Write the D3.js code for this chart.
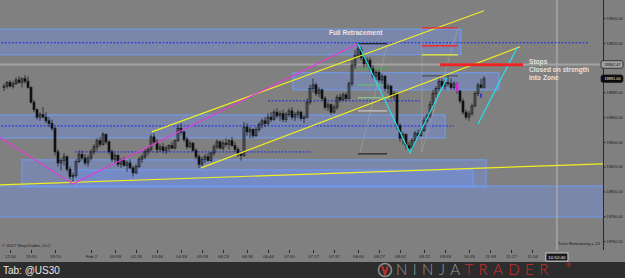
<!DOCTYPE html>
<html>
<head>
<meta charset="utf-8">
<script src="https://cdn.jsdelivr.net/npm/d3@7"></script>
<style>
  body { margin: 0; background: #808080; }
  svg { display: block; }
</style>
</head>
<body>
<svg id="chart" width="625" height="278"></svg>
<script>
// bar data [open, high, low, close], one entry per tick bar
const ohlc = [
  [19884,19887,19881,19885],[19885,19889,19883,19888],[19888,19890,19884,19885],[19885,19889,19883,19887],
  [19887,19892,19886,19890],[19890,19893,19887,19888],[19888,19892,19884,19891],[19891,19894,19887,19889],
  [19889,19893,19883,19884],[19884,19885,19871,19872],[19872,19874,19864,19866],[19866,19867,19858,19860],
  [19860,19864,19857,19862],[19862,19868,19859,19860],[19860,19864,19855,19857],[19857,19860,19852,19855],
  [19855,19858,19849,19851],[19851,19852,19829,19832],[19832,19834,19820,19823],[19823,19827,19817,19825],
  [19825,19831,19821,19828],[19828,19829,19816,19818],[19818,19820,19810,19812],[19812,19815,19806,19813],
  [19813,19826,19811,19824],[19824,19833,19823,19830],[19830,19833,19825,19827],[19827,19830,19821,19823],
  [19823,19829,19820,19827],[19827,19834,19825,19832],[19832,19838,19830,19836],[19836,19843,19833,19841],
  [19841,19844,19836,19838],[19838,19848,19837,19846],[19846,19847,19838,19840],[19840,19841,19830,19832],
  [19832,19834,19824,19826],[19826,19831,19823,19829],[19829,19830,19820,19822],[19822,19827,19819,19825],
  [19825,19828,19820,19821],[19821,19825,19816,19823],[19823,19826,19818,19819],[19819,19821,19812,19815],
  [19815,19822,19814,19820],[19820,19828,19819,19826],[19826,19830,19823,19828],[19828,19834,19826,19832],
  [19832,19836,19829,19834],[19834,19846,19832,19844],[19844,19847,19838,19840],[19840,19842,19831,19834],
  [19834,19838,19832,19836],[19836,19839,19831,19833],[19833,19837,19830,19835],[19835,19838,19832,19837],
  [19837,19840,19834,19835],[19835,19842,19834,19841],[19841,19854,19840,19851],[19851,19855,19846,19848],
  [19848,19849,19840,19842],[19842,19844,19834,19836],[19836,19841,19835,19839],[19839,19840,19832,19833],
  [19833,19835,19826,19828],[19828,19830,19819,19822],[19822,19828,19820,19826],[19826,19830,19823,19828],
  [19828,19831,19824,19825],[19825,19832,19824,19831],[19831,19838,19829,19836],[19836,19842,19834,19840],
  [19840,19841,19834,19835],[19835,19841,19833,19839],[19839,19843,19836,19838],[19838,19842,19834,19841],
  [19841,19844,19836,19837],[19837,19840,19832,19834],[19834,19836,19828,19830],[19830,19832,19825,19829],
  [19829,19856,19828,19852],[19852,19855,19845,19848],[19848,19852,19843,19850],[19850,19851,19843,19845],
  [19845,19852,19844,19850],[19850,19856,19848,19854],[19854,19859,19851,19857],[19857,19860,19852,19855],
  [19855,19863,19853,19860],[19860,19864,19856,19858],[19858,19866,19857,19864],[19864,19867,19859,19861],
  [19861,19865,19857,19863],[19863,19866,19856,19858],[19858,19864,19856,19862],[19862,19867,19860,19865],
  [19865,19868,19858,19860],[19860,19864,19857,19862],[19862,19866,19859,19864],[19864,19865,19857,19859],
  [19859,19862,19855,19860],[19860,19875,19859,19872],[19872,19886,19870,19883],[19883,19891,19880,19886],
  [19886,19888,19877,19879],[19879,19884,19876,19882],[19882,19883,19873,19875],[19875,19877,19866,19868],
  [19868,19872,19865,19870],[19870,19871,19862,19864],[19864,19870,19863,19868],[19868,19878,19866,19876],
  [19876,19879,19872,19874],[19874,19880,19873,19878],[19878,19880,19873,19875],[19875,19889,19874,19887],
  [19887,19906,19885,19902],[19902,19914,19899,19910],[19910,19920,19907,19915],[19915,19917,19906,19908],
  [19908,19911,19900,19903],[19903,19908,19901,19906],[19906,19908,19897,19899],[19899,19902,19891,19893],
  [19893,19898,19890,19896],[19896,19898,19888,19890],[19890,19895,19887,19893],[19893,19894,19881,19883],
  [19883,19887,19879,19885],[19885,19886,19875,19877],[19877,19881,19874,19879],[19879,19880,19850,19853],
  [19853,19855,19840,19843],[19843,19848,19838,19846],[19846,19847,19834,19837],[19837,19840,19832,19835],
  [19835,19843,19834,19841],[19841,19849,19839,19847],[19847,19850,19843,19845],[19845,19851,19844,19849],
  [19849,19860,19848,19857],[19857,19863,19855,19861],[19861,19873,19859,19870],[19870,19882,19868,19879],
  [19879,19885,19876,19883],[19883,19892,19881,19889],[19889,19891,19883,19885],[19885,19890,19882,19888],
  [19888,19893,19885,19887],[19887,19891,19882,19884],[19884,19889,19882,19887],[19887,19888,19879,19881],
  [19881,19882,19871,19873],[19873,19875,19862,19864],[19864,19866,19858,19860],[19860,19865,19857,19863],
  [19863,19871,19861,19869],[19869,19881,19868,19879],[19879,19888,19877,19886],[19886,19891,19883,19884],
  [19884,19893,19883,19891]
];

const timeTickIdx = [2, 9, 17, 29, 37, 44, 51, 59, 66, 73, 81, 88, 95, 103, 110, 118, 125, 132, 140, 147, 155, 162, 169, 176];
const timeTickText = ["12:50","15:51","19:15","Feb 2","00:59","02:26","03:46","04:59","05:59","06:23","06:36","06:44",
  "07:00","07:17","07:37","08:00","08:27","08:52","09:22","09:59","10:35","11:08","11:27","11:54"];
// 19900 sits under the price tag, so it is not listed
const priceTicks = [19940, 19920, 19880, 19860, 19840, 19820, 19800, 19780, 19760];
const lastPrice = 19891.00;
const markerPrice = 19902.47;
const currentTime = "10:52:40";
const currentIdx = 184.3;

// drawing objects, anchored in [bar index, price]
const zones = [
  [-2, 152.3, 19931, 19910.3],
  [96.3, 165, 19895.8, 19882],
  [-2, 147, 19861.8, 19843.2],
  [6, 160.7, 19825.5, 19803.6],
  [23.7, 156.3, 19817.4, 19804.4],
  [-2, 210, 19804.4, 19779.4]
];
const dashedLevels = [[19920, -2, 194.7], [19852.9, -2, 150], [19873.1, 88, 138.7], [19831.9, 23.7, 102.3]];
const yellowLines = [
  [[49.3, 19848.1], [160, 19945.9]],
  [[65.7, 19819], [172, 19916.8]],
  [[-2, 19805.2], [210, 19823.1]],
  [[139.3, 19910.3], [151.3, 19910.3]]
];
const magentaPath = [[-2, 19844.3], [23, 19806.1], [118, 19919.2]];
const cyanPaths = [
  [[118, 19919.2], [135.3, 19831.1], [147.7, 19891.7]],
  [[158, 19854.5], [171, 19916]]
];
const redLevels = [[19932.1, 139.3, 151.3], [19917.6, 139.3, 151.3]];
const stopLevel = [19902.2, 145.3, 173];
const fibLevels = [19919.2, 19899, 19886, 19875.6, 19865, 19830.3];
const fibRange = [118, 127.7];
const boxLevel = [19893.3, 139.3, 151.3];
const faintLines = [
  [[118.7, 19831.1], [127.7, 19918.4]],
  [[139.3, 19831.9], [151.3, 19932.1]],
  [[139.3, 19831.9], [139.3, 19932.1]]
];
const highlightBars = [151];
const signalBars = [159];

const svg = d3.select("#chart");
const W = 625, H = 278;
const plotRight = 603;

const x = d3.scaleLinear().domain([0, 160]).range([4, 484]);
const y = d3.scaleLinear().domain([19760, 19940]).range([241, 18]);

svg.append("rect").attr("width", W).attr("height", H).attr("fill", "#808080");

const plot = svg.append("g");
plot.append("clipPath").attr("id", "clip")
  .append("rect").attr("width", plotRight).attr("height", 250);
const layer = plot.append("g").attr("clip-path", "url(#clip)");

// zones
layer.append("g")
  .selectAll("rect")
  .data(zones)
  .join("rect")
  .attr("x", d => x(d[0]))
  .attr("width", d => x(d[1]) - x(d[0]))
  .attr("y", d => y(d[2]))
  .attr("height", d => y(d[3]) - y(d[2]))
  .attr("fill", "rgba(110,150,255,0.33)")
  .attr("stroke", "#6f9cf2")
  .attr("stroke-width", 1);

// last price marker line
layer.append("line")
  .attr("x1", 0).attr("x2", plotRight)
  .attr("y1", y(markerPrice)).attr("y2", y(markerPrice))
  .attr("stroke", "#a4a4a4").attr("stroke-width", 2);

// current time line
layer.append("line")
  .attr("x1", x(currentIdx)).attr("x2", x(currentIdx))
  .attr("y1", 0).attr("y2", 250)
  .attr("stroke", "#a8a8a8").attr("stroke-width", 1.5);

// dashed levels
layer.append("g")
  .selectAll("line")
  .data(dashedLevels)
  .join("line")
  .attr("x1", d => x(d[1])).attr("x2", d => x(d[2]))
  .attr("y1", d => y(d[0])).attr("y2", d => y(d[0]))
  .attr("stroke", "#1c2be6")
  .attr("stroke-width", 1)
  .attr("stroke-dasharray", "2,1.5");

// faint tool lines
const line = d3.line().x(d => x(d[0])).y(d => y(d[1]));
layer.append("g")
  .selectAll("path")
  .data(faintLines)
  .join("path")
  .attr("d", line)
  .attr("fill", "none")
  .attr("stroke", "#a9a9a9")
  .attr("stroke-width", 0.5);

// fib-style short levels
const fibColors = ["#111", "#3fae4a", "#5cc466", "#8fd88f", "#d8d8d8", "#111"];
layer.append("g")
  .selectAll("line")
  .data(fibLevels)
  .join("line")
  .attr("x1", x(fibRange[0])).attr("x2", x(fibRange[1]))
  .attr("y1", d => y(d)).attr("y2", d => y(d))
  .attr("stroke", (d, i) => fibColors[i])
  .attr("stroke-width", 1);

layer.append("line")
  .attr("x1", x(boxLevel[1])).attr("x2", x(boxLevel[2]))
  .attr("y1", y(boxLevel[0])).attr("y2", y(boxLevel[0]))
  .attr("stroke", "#444").attr("stroke-width", 1);

// candles
const candles = layer.append("g");
candles.selectAll("line")
  .data(ohlc)
  .join("line")
  .attr("x1", (d, i) => x(i)).attr("x2", (d, i) => x(i))
  .attr("y1", d => y(d[1])).attr("y2", d => y(d[2]))
  .attr("stroke", "#1e1e1e")
  .attr("stroke-width", 0.8);

candles.selectAll("rect")
  .data(ohlc)
  .join("rect")
  .attr("x", (d, i) => x(i) - 1)
  .attr("width", 2)
  .attr("y", d => y(Math.max(d[0], d[3])))
  .attr("height", d => Math.max(1, Math.abs(y(d[0]) - y(d[3]))))
  .attr("fill", (d, i) => highlightBars.includes(i) ? "#e020e0" : (d[3] >= d[0] ? "none" : "#0c0c0c"))
  .attr("stroke", (d, i) => highlightBars.includes(i) ? "#e020e0" : "#1a1a1a")
  .attr("stroke-width", 0.7);

candles.selectAll("rect.sig")
  .data(signalBars)
  .join("rect")
  .attr("class", "sig")
  .attr("x", i => x(i) - 0.8)
  .attr("width", 1.6)
  .attr("y", i => y(ohlc[i][2]) + 5)
  .attr("height", 4)
  .attr("fill", "#1c2be6");

// trend lines
layer.append("g")
  .selectAll("path")
  .data(yellowLines)
  .join("path")
  .attr("d", line)
  .attr("stroke", "#f2ee22")
  .attr("stroke-width", 1.2)
  .attr("fill", "none");

layer.append("path")
  .attr("d", line(magentaPath))
  .attr("stroke", "#e43ad8")
  .attr("stroke-width", 1.2)
  .attr("fill", "none");

layer.append("g")
  .selectAll("path")
  .data(cyanPaths)
  .join("path")
  .attr("d", line)
  .attr("stroke", "#27e0ea")
  .attr("stroke-width", 1.2)
  .attr("fill", "none");

layer.append("g")
  .selectAll("line")
  .data(redLevels)
  .join("line")
  .attr("x1", d => x(d[1])).attr("x2", d => x(d[2]))
  .attr("y1", d => y(d[0])).attr("y2", d => y(d[0]))
  .attr("stroke", "#ee2a2a").attr("stroke-width", 1.3);

layer.append("line")
  .attr("x1", x(stopLevel[1])).attr("x2", x(stopLevel[2]))
  .attr("y1", y(stopLevel[0])).attr("y2", y(stopLevel[0]))
  .attr("stroke", "#ee2424").attr("stroke-width", 3);

// annotations
const noteFont = "'Liberation Sans', Arial, sans-serif";
layer.append("text")
  .attr("x", x(108.3)).attr("y", y(19928.5) + 2.5)
  .attr("font-family", noteFont).attr("font-size", 6.6).attr("font-weight", "bold")
  .attr("fill", "#e6e6e6")
  .text("Full Retracement");

const stopNotes = ["Stops", "Closed on strength", "into Zone"];
layer.append("g")
  .selectAll("text")
  .data(stopNotes)
  .join("text")
  .attr("x", x(175))
  .attr("y", (d, i) => y(19905) + i * 8 + 2.5)
  .attr("font-family", noteFont).attr("font-size", 6.6).attr("font-weight", "bold")
  .attr("fill", "#e2e2e2")
  .text(d => d);

layer.append("text")
  .attr("x", 2).attr("y", 247)
  .attr("font-family", noteFont).attr("font-size", 4.4)
  .attr("fill", "#1a1a1a")
  .text("© 2017 NinjaTrader, LLC");

layer.append("text")
  .attr("x", 600).attr("y", 245)
  .attr("text-anchor", "end")
  .attr("font-family", noteFont).attr("font-size", 4.4)
  .attr("fill", "#1a1a1a")
  .text("Ticks Remaining = 25");

// right price axis
svg.append("line")
  .attr("x1", plotRight + 0.5).attr("x2", plotRight + 0.5)
  .attr("y1", 0).attr("y2", 250)
  .attr("stroke", "#2a2a2a").attr("stroke-width", 1);

const yAxis = svg.append("g")
  .attr("transform", `translate(${plotRight + 0.5},0)`)
  .call(d3.axisRight(y).tickValues(priceTicks).tickFormat(d3.format(".2f")).tickSize(2).tickPadding(1));
yAxis.select(".domain").remove();
yAxis.selectAll("line").attr("stroke", "#2a2a2a");
yAxis.selectAll("text").attr("font-size", 3.9).attr("font-family", noteFont).attr("fill", "#1a1a1a");

function priceTag(value, fill, textColor) {
  const g = svg.append("g").attr("transform", `translate(${plotRight - 2},${y(value)})`);
  g.append("rect")
    .attr("x", 0).attr("y", -3.8).attr("width", 22).attr("height", 7.6).attr("rx", 2)
    .attr("fill", fill).attr("stroke", "#222").attr("stroke-width", 0.8);
  g.append("text")
    .attr("x", 11.5).attr("y", 1.4).attr("text-anchor", "middle")
    .attr("font-family", noteFont).attr("font-size", 3.9)
    .attr("fill", textColor)
    .text(d3.format(".2f")(value));
}
priceTag(markerPrice, "#a0a0a0", "#111");
priceTag(lastPrice, "#0c0c0c", "#f4f4f4");

// bottom time axis
const xAxis = svg.append("g")
  .attr("transform", "translate(0,250)")
  .call(d3.axisBottom(x).tickValues(timeTickIdx).tickFormat((d, i) => timeTickText[i]).tickSize(3).tickPadding(1.5));
xAxis.select(".domain").remove();
xAxis.selectAll("line").attr("stroke", "#2a2a2a");
xAxis.selectAll("text").attr("font-size", 4.4).attr("font-family", noteFont).attr("fill", "#1a1a1a");

const tg = svg.append("g").attr("transform", `translate(${x(currentIdx)},257)`);
tg.append("rect").attr("x", -11).attr("y", -4).attr("width", 22).attr("height", 8)
  .attr("fill", "#1a1a1a").attr("stroke", "#e0e0e0").attr("stroke-width", 0.8);
tg.append("text").attr("y", 1.6).attr("text-anchor", "middle")
  .attr("font-family", noteFont).attr("font-size", 4.4).attr("fill", "#f4f4f4")
  .text(currentTime);

// footer bar
svg.append("rect").attr("x", 0).attr("y", 262).attr("width", W).attr("height", 16).attr("fill", "#2d2d2d");
svg.append("text")
  .attr("x", 3).attr("y", 274)
  .attr("font-family", "'Liberation Sans', Arial, sans-serif").attr("font-size", 10)
  .attr("fill", "#e8e8e8")
  .text("Tab: @US30");

const logo = svg.append("g").attr("transform", "translate(385,270)");
logo.append("circle").attr("r", 6.5).attr("fill", "none").attr("stroke", "#8a8a8a").attr("stroke-width", 1.6);
logo.append("path").attr("d", "M-3,-4 L0,4 L3,-4").attr("fill", "none").attr("stroke", "#c4302b").attr("stroke-width", 2);

const brand = svg.append("text")
  .attr("x", 396).attr("y", 274.5)
  .attr("font-family", "Lato, 'Open Sans', sans-serif").attr("font-weight", 300)
  .attr("font-size", 15).attr("letter-spacing", 5.4);
brand.append("tspan").attr("fill", "#9a9a9a").text("NINJA");
brand.append("tspan").attr("fill", "#c8302c").text("TRADER");
svg.append("text").attr("x", 566).attr("y", 267)
  .attr("font-family", "Lato, sans-serif").attr("font-size", 6).attr("fill", "#c8302c").text("®");
</script>
</body>
</html>
